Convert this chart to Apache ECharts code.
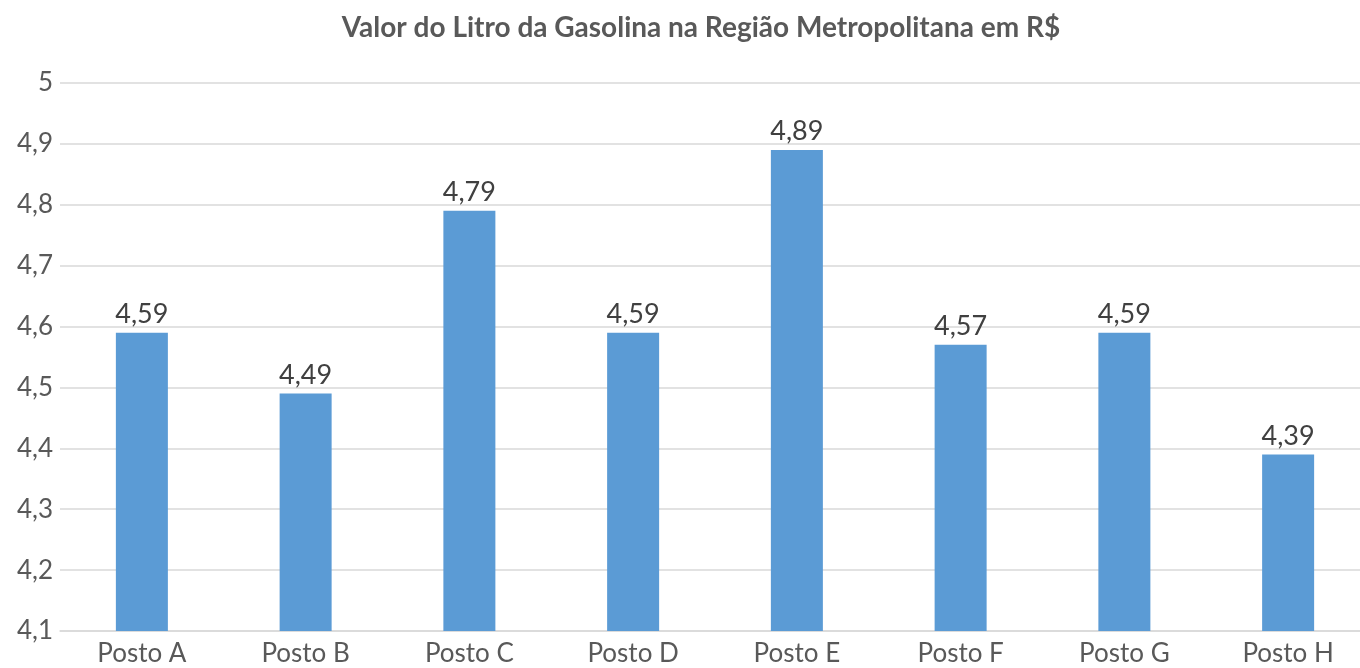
<!DOCTYPE html>
<html>
<head>
<meta charset="utf-8">
<script src="https://cdn.jsdelivr.net/npm/echarts@6/dist/echarts.min.js"></script>
<style>
html, body { margin: 0; padding: 0; background: #fff; }
#container { width: 1360px; height: 668px; }
</style>
</head>
<body>
<div id="container"></div>
<script>
var categories = ['Posto A', 'Posto B', 'Posto C', 'Posto D', 'Posto E', 'Posto F', 'Posto G', 'Posto H'];
var precos = [4.59, 4.49, 4.79, 4.59, 4.89, 4.57, 4.59, 4.39];
var yMin = 4.1;
var yMax = 5;
var yStep = 0.1;

var dom = document.getElementById("container");
var myChart = echarts.init(dom);

// formato brasileiro: virgula decimal
function virgula(v) {
    return String(Math.round(v * 100) / 100).replace('.', ',');
}

var fonte = 'Lato, "Open Sans", sans-serif';

var option = {
    animation: false,
    title: {
        text: 'Valor do Litro da Gasolina na Região Metropolitana em R$',
        left: 696,
        textAlign: 'center',
        top: 9,
        textStyle: {
            fontFamily: fonte,
            fontSize: 28,
            fontWeight: 'bold',
            color: '#595959'
        }
    },
    grid: {
        left: 60,
        top: 83,
        width: 1310,
        height: 548,
        containLabel: false,
        outerBoundsMode: 'none'
    },
    xAxis: {
        type: 'category',
        data: categories,
        axisTick: { show: false },
        axisLine: { lineStyle: { color: '#d9d9d9', width: 1.5 } },
        axisLabel: {
            fontFamily: fonte,
            fontSize: 26,
            color: '#595959',
            margin: 10,
            interval: 0
        }
    },
    yAxis: {
        type: 'value',
        min: yMin,
        max: yMax,
        interval: yStep,
        axisLine: { show: false },
        axisTick: { show: false },
        splitLine: { lineStyle: { color: '#d9d9d9', width: 1.5 } },
        axisLabel: {
            fontFamily: fonte,
            fontSize: 26,
            color: '#595959',
            margin: 7,
            formatter: function (v) { return virgula(v); }
        }
    },
    series: [
        {
            type: 'bar',
            data: precos,
            barWidth: 52,
            itemStyle: { color: '#5b9bd5' },
            label: {
                show: true,
                position: 'top',
                distance: 5,
                fontFamily: fonte,
                fontSize: 27,
                color: '#404040',
                formatter: function (p) { return virgula(p.value); }
            }
        }
    ]
};

myChart.setOption(option);
</script>
</body>
</html>
